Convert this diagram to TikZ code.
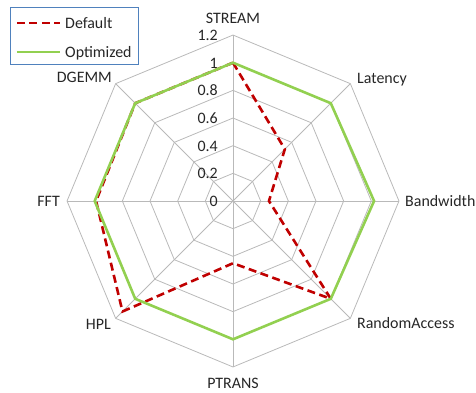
\documentclass[tikz,border=0pt]{standalone}
\usepackage{fontspec}
\setmainfont{Carlito}
\definecolor{defred}{RGB}{192,0,0}
\definecolor{optgreen}{RGB}{146,208,80}
\definecolor{legblue}{RGB}{79,129,189}
\newcommand{\rad}{138.3}
\begin{document}
\begin{tikzpicture}[
    x=1bp, y=1bp,
    grid/.style={draw=gray!55, line width=0.8bp},
    axislabel/.style={inner sep=0pt, text=black!85,
                  font=\fontsize{16}{19}\selectfont},
    ticklabel/.style={inner sep=0pt, anchor=base east, text=black!85,
                  font=\fontsize{16}{19}\selectfont},
    defaultline/.style={draw=defred, line width=2.6bp,
                  dash pattern=on 8bp off 4.5bp},
    optline/.style={draw=optgreen, line width=2.6bp}
]
    \useasboundingbox (-233,-191) rectangle (243,201);

    % Raster
    \coordinate (o) at (0,0);
    \foreach \i in {1,...,6}
        \draw[grid] (0:\i*\rad/5) -- (45:\i*\rad/5) -- (90:\i*\rad/5)
            -- (135:\i*\rad/5) -- (180:\i*\rad/5) -- (225:\i*\rad/5)
            -- (270:\i*\rad/5) -- (315:\i*\rad/5) -- cycle;
    \foreach \a in {0,45,...,315}
        \draw[grid] (o) -- (\a:1.2*\rad);

    % Schaalwaarden
    \foreach \v [count=\i] in {0,0.2,0.4,0.6,0.8,1,1.2}
        \node[ticklabel] (tick\i) at (-15,\v*\rad-5.5) {\v};

    % Assen
    \node[axislabel, anchor=base] (stream) at (0,177.5) {STREAM};
    \node[axislabel, anchor=base west] (latency) at (124,117.5) {Latency};
    \node[axislabel, anchor=base west] (bandwidth) at (172,-5.5) {Bandwidth};
    \node[axislabel, anchor=base west] (random) at (124,-127.5) {RandomAccess};
    \node[axislabel, anchor=base] (ptrans) at (0,-187.5) {PTRANS};
    \node[axislabel, anchor=base east] (hpl) at (-122,-128.5) {HPL};
    \node[axislabel, anchor=base east] (fft) at (-173,-5.5) {FFT};
    \node[axislabel, anchor=base east] (dgemm) at (-121,118.5) {DGEMM};

    % Default
    \draw[defaultline] (90:1.0*\rad) -- (45:0.53*\rad) -- (0:0.26*\rad)
        -- (-45:1.0*\rad) -- (-90:0.45*\rad) -- (-135:1.13*\rad)
        -- (180:0.99*\rad) -- (135:1.0*\rad) -- cycle;

    % Optimized
    \draw[optline] (90:1.0*\rad) -- (45:1.0*\rad) -- (0:1.02*\rad)
        -- (-45:1.0*\rad) -- (-90:1.0*\rad) -- (-135:1.0*\rad)
        -- (180:1.0*\rad) -- (135:1.0*\rad) -- cycle;

    % Legenda
    \node[draw=legblue, line width=0.8bp, inner sep=0pt,
          minimum width=128bp, minimum height=57bp] (legend) at (-159,165.5) {};
    \coordinate (ldefa) at (-216,178);
    \coordinate (ldefb) at (-173,178);
    \coordinate (lopta) at (-216,149);
    \coordinate (loptb) at (-173,149);
    \draw[defaultline] (ldefa) -- (ldefb);
    \draw[optline] (lopta) -- (loptb);
    \node[axislabel, anchor=base west] (ldeftext) at (-168,172.5) {Default};
    \node[axislabel, anchor=base west] (lopttext) at (-168,143.5) {Optimized};

\end{tikzpicture}
\end{document}
